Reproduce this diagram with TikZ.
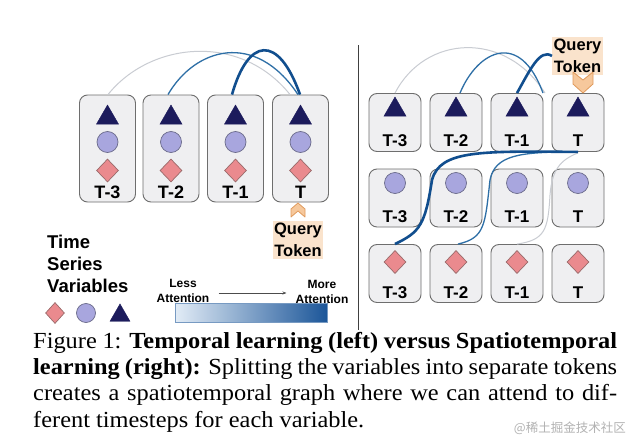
\documentclass[tikz,border=0pt]{standalone}
\usepackage{fontspec}
\setmainfont{Liberation Serif}
\setsansfont{Liberation Sans}
\newfontfamily\cjk{Noto Sans CJK SC}
\usetikzlibrary{shapes.geometric,arrows.meta}
\definecolor{boxfill}{HTML}{EFEFF1}
\definecolor{boxedge}{HTML}{6E6E6E}
\definecolor{navy}{HTML}{1C1B5C}
\definecolor{lav}{HTML}{A8A6DE}
\definecolor{lavedge}{HTML}{6A6A8A}
\definecolor{salmon}{HTML}{EA8A8E}
\definecolor{salmonedge}{HTML}{9A6A6A}
\definecolor{peach}{HTML}{FAE3CC}
\definecolor{peachdark}{HTML}{F6C89C}
\definecolor{orangeedge}{HTML}{E09A5C}
\definecolor{thickc}{HTML}{114E8E}
\definecolor{midc}{HTML}{2E6FA6}
\definecolor{lightc}{HTML}{C9CCD2}
\definecolor{gradL}{HTML}{E2ECF6}
\definecolor{gradR}{HTML}{1C5699}
\newcommand{\capw}[1]{\scalebox{1.06}[1]{\makebox[550.9pt][s]{#1}}}
\tikzset{
  tokbox/.style={draw=boxedge, fill=boxfill, rounded corners=8pt, line width=0.9pt, inner sep=0pt},
  tri/.style={regular polygon, regular polygon sides=3, fill=navy, draw=navy, inner sep=0pt, minimum size=25.4pt},
  circ/.style={circle, fill=lav, draw=lavedge, line width=0.7pt, inner sep=0pt, minimum size=21pt},
  dia/.style={diamond, fill=salmon, draw=salmonedge, line width=0.7pt, inner sep=0pt, minimum width=22pt, minimum height=23pt},
  lab/.style={anchor=base, inner sep=0pt, font=\sffamily\bfseries\fontsize{18}{18}\selectfont},
  rlab/.style={anchor=base, inner sep=0pt, font=\sffamily\bfseries\fontsize{17}{17}\selectfont},
  qtok/.style={fill=peach, inner xsep=1.5pt, inner ysep=2pt, align=center, font=\sffamily\bfseries\fontsize{16.5}{22}\selectfont},
  chev/.style={fill=peachdark, draw=orangeedge, line width=0.8pt, line join=round},
  att/.style={align=center, inner sep=0pt, font=\sffamily\bfseries\fontsize{12}{15.5}\selectfont},
  capline/.style={anchor=base west, inner sep=0pt, font=\fontsize{23}{26}\selectfont},
  wthick/.style={draw=thickc, line width=2.6pt},
  wmid/.style={draw=midc, line width=1.3pt},
  wlight/.style={draw=lightc, line width=1pt},
}
\begin{document}
\begin{tikzpicture}[x=1pt,y=-1pt]
\useasboundingbox (0,0) rectangle (640,447);
\fill[white] (0,0) rectangle (640,447);

% ---------- left: temporal learning ----------
\foreach \n/\x/\t in {1/107.5/T-3, 2/171/T-2, 3/235.5/T-1, 4/300.5/T} {
  \node[tokbox, minimum width=56pt, minimum height=107pt] (L\n) at (\x,148.5) {};
  \node[tri] (L\n t) at (\x,117.7) {};
  \node[circ] (L\n c) at (\x,142) {};
  \node[dia] (L\n d) at (\x,170.5) {};
  \node[lab] (L\n l) at (\x,198) {\t};
}
\draw[wlight] ([xshift=0.5pt]L1.north) .. controls (150,42) and (240,32) .. ([xshift=-10.5pt]L4.north);
\draw[wmid] ([xshift=-3pt]L2.north) .. controls (195,48) and (255,30) .. ([xshift=-2.5pt]L4.north);
\draw[wthick] ([xshift=-3.5pt]L3.north) .. controls (248,38) and (278,33) .. ([xshift=-0.5pt]L4.north);

% query token (left)
\node[qtok] (QL) at (298,240) {Query\\Token};
\draw[chev] (291,217) -- (298,211) -- (305,217) -- (305,209) -- (298,203) -- (291,209) -- cycle;

% divider
\coordinate (dtop) at (358,45);
\coordinate (dbot) at (358,330);
\draw[draw=black!75, line width=1pt] (dtop) -- (dbot);

% ---------- right: spatiotemporal learning ----------
\foreach \n/\x/\t in {1/395/T-3, 2/456/T-2, 3/517/T-1, 4/578/T} {
  \node[tokbox, minimum width=52pt, minimum height=58pt] (A\n) at (\x,122.5) {};
  \node[tri] (A\n t) at (\x,109.7) {};
  \node[rlab] (A\n l) at (\x,146) {\t};
  \node[tokbox, minimum width=52pt, minimum height=58pt] (B\n) at (\x,198) {};
  \node[circ] (B\n c) at (\x,183) {};
  \node[rlab] (B\n l) at (\x,222) {\t};
  \node[tokbox, minimum width=52pt, minimum height=58pt] (C\n) at (\x,273.5) {};
  \node[dia] (C\n d) at (\x,262) {};
  \node[rlab] (C\n l) at (\x,298) {\t};
}
% query token (right)
\node[qtok] (QR) at (577.5,56) {Query\\Token};
\draw[chev] (573,72) -- (583,80) -- (593,72) -- (593,84) -- (583,93) -- (573,84) -- cycle;

% top arcs
\draw[wlight] (A1.north) .. controls (425,35) and (505,30) .. ([xshift=-33pt]A4.north);
\draw[wmid] ([xshift=4pt]A2.north) .. controls (478,50) and (520,30) .. ([xshift=-35pt]A4.north);
\draw[wthick] (A3.north) .. controls (530,70) and (540,48) .. (QR.west);
% lower arcs
\draw[wlight] ([yshift=-1pt]A4.south) .. controls (560,160) and (552,170) .. (550,195) .. controls (548,230) and (545,240) .. (C3.north);
\draw[wmid] ([xshift=-6pt]A4.south) .. controls (520,152) and (495,155) .. (490,180) .. controls (485,225) and (485,238) .. ([xshift=2pt]C2.north);
\draw[wthick] (A4.south) .. controls (480,151) and (440,150) .. (432,180) .. controls (425,225) and (420,232) .. (C1.north);

% ---------- legend ----------
\node[anchor=north west, inner sep=0pt, font=\sffamily\bfseries\fontsize{18.5}{22}\selectfont, align=left] (tsv) at (47,235) {Time\\Series\\Variables};
\node[dia, minimum width=19pt, minimum height=21pt] (gd) at (55,313) {};
\node[circ, minimum size=19pt] (gc) at (86,313) {};
\node[tri, minimum size=23.1pt] (gt) at (120,315.5) {};

\node[att] (less) at (183,291) {Less\\Attention};
\node[att] (more) at (322,292) {More\\Attention};
\draw[draw=black!70, line width=0.8pt, -{Stealth[length=4pt,width=3pt]}] ([xshift=9pt,yshift=-2pt]less.east) -- ([xshift=-9pt,yshift=-1pt]more.west);
\node[minimum width=152pt, minimum height=19pt, inner sep=0pt, left color=gradL, right color=gradR, draw=gradR!60, line width=0.4pt] (grad) at (251,313) {};

% ---------- caption ----------
\node[capline] (cap1) at (33,348) {\capw{Figure 1: \textbf{Temporal learning (left) versus Spatiotemporal}}};
\node[capline] (cap2) at (33,374) {\capw{\textbf{learning (right):} Splitting the variables into separate tokens}};
\node[capline] (cap3) at (33,400.5) {\capw{creates a spatiotemporal graph where we can attend to dif-}};
\node[capline] (cap4) at (33,427) {\scalebox{1.06}[1]{ferent timesteps for each variable.}};
\node[anchor=base east, inner sep=0pt, text=black!30, font=\cjk\fontsize{12.5}{13}\selectfont] (wm) at (626,432) {@稀土掘金技术社区};
\end{tikzpicture}
\end{document}
